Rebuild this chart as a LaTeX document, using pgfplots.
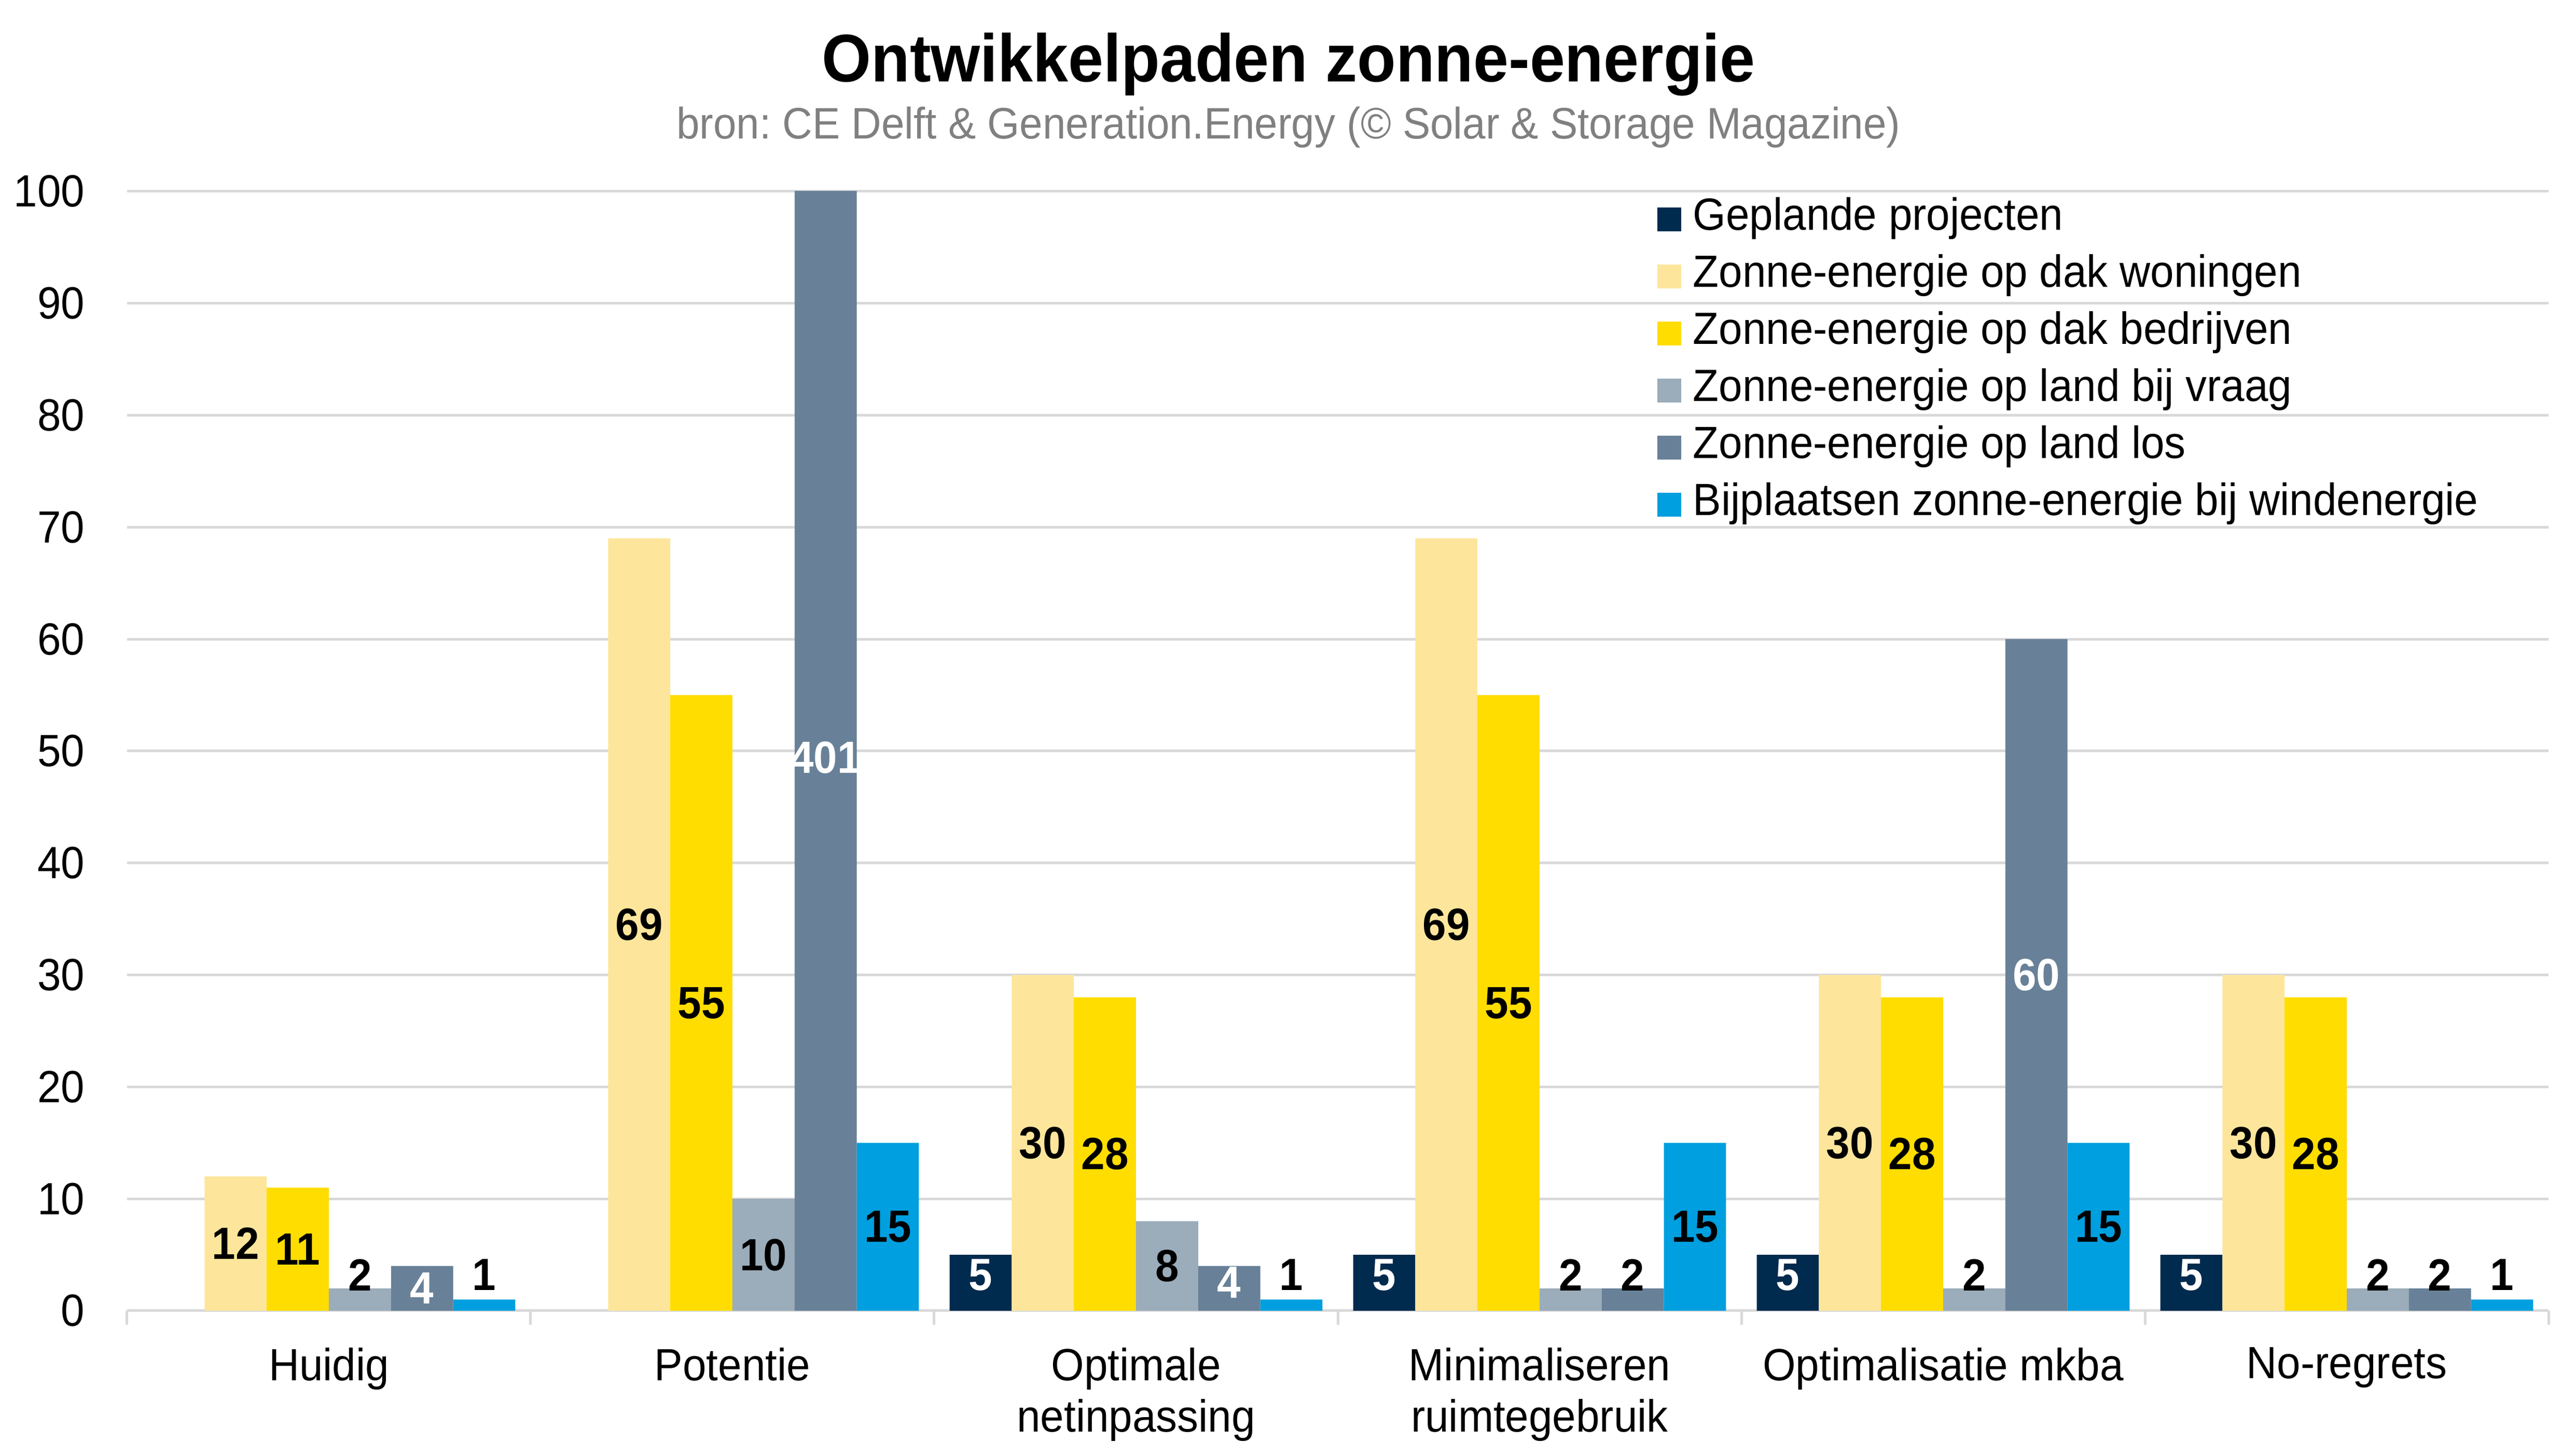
\documentclass[border=0pt]{standalone}
\usepackage{fontspec}
\setmainfont{Liberation Sans}[FakeStretch=0.94]
\usepackage{pgfplots}
\pgfplotsset{compat=1.18}
\usepackage{pgfplotstable}

\definecolor{gepland}{HTML}{002B4E}
\definecolor{woning}{HTML}{FDE69B}
\definecolor{bedrijf}{HTML}{FFDD00}
\definecolor{vraag}{HTML}{9BACBA}
\definecolor{los}{HTML}{688198}
\definecolor{wind}{HTML}{009FDF}
\definecolor{lijn}{HTML}{D9D9D9}
\definecolor{sub}{HTML}{808080}

% x: 0 Huidig, 1 Potentie, 2 Optimale netinpassing, 3 Minimaliseren ruimtegebruik,
%    4 Optimalisatie mkba, 5 No-regrets
% v = waarde, ly = hoogte waarop het getal staat
\pgfplotstableread{
x v ly
2 5 3.2
3 5 3.2
4 5 3.2
5 5 3.2
}\tgepland
\pgfplotstableread{
x v ly
0 12 6
1 69 34.5
2 30 15
3 69 34.5
4 30 15
5 30 15
}\twoning
\pgfplotstableread{
x v ly
0 11 5.5
1 55 27.5
2 28 14
3 55 27.5
4 28 14
5 28 14
}\tbedrijf
\pgfplotstableread{
x v ly
0 2 3.2
1 10 5
2 8 4
3 2 3.2
4 2 3.2
5 2 3.2
}\tvraag
% w = 1: wit getal in de balk
\pgfplotstableread{
x v ly w
0 4 2 1
1 401 49.4 1
2 4 2.5 1
3 2 3.2 0
4 60 30 1
5 2 3.2 0
}\tlos
\pgfplotstableread{
x v ly
0 1 3.2
1 15 7.5
2 1 3.2
3 15 7.5
4 15 7.5
5 1 3.2
}\twind

\pgfplotsset{
  balk/.style={ybar, draw=none, fill=#1, bar width=0.154,
    legend image code/.code={\fill[##1] (-0.2pt,-2.3pt) rectangle (4.4pt,2.3pt);}},
  getal/.style={only marks, mark=none, forget plot,
    nodes near coords, point meta=explicit,
    every node near coord/.append style={anchor=center, inner sep=0pt,
      font=\bfseries\fontsize{8.7}{10}\selectfont}},
}

\begin{document}
\begin{tikzpicture}
\useasboundingbox (-24.5pt,-28pt) rectangle (471.9pt,252.7pt);
\begin{axis}[
  at={(0pt,0pt)}, anchor=south west, scale only axis,
  width=466.8pt, height=215.8pt,
  xmin=-0.5, xmax=5.5, ymin=0, ymax=100,
  /pgf/number format/assume math mode=true,
  xtick={0,...,5},
  xticklabels={Huidig, Potentie, {Optimale\\netinpassing}, {Minimaliseren\\ruimtegebruik}, {Optimalisatie mkba}, No-regrets},
  xticklabel style={font=\fontsize{8.7}{9.9}\selectfont, align=center, inner sep=0pt, anchor=north, yshift=-6.9pt},
  extra x ticks={-0.5,0.5,...,5.5},
  extra x tick labels={},
  extra x tick style={grid=none, major tick length=2.7pt, tick style={draw=lijn, line width=0.5pt}},
  ytick={0,10,...,100},
  yticklabel style={font=\fontsize{8.7}{10}\selectfont, anchor=east, inner sep=0pt, xshift=-8pt},
  ymajorgrids, grid style={draw=lijn, line width=0.5pt},
  axis x line*=bottom, axis y line*=left,
  x axis line style={draw=lijn, line width=0.5pt},
  y axis line style={draw=none},
  tick align=outside, major tick length=0pt,
  legend style={at={(0.6315,1)}, anchor=north west, yshift=-1pt, draw=none, fill=none,
    font=\fontsize{8.7}{10}\selectfont, row sep=2.5pt, column sep=2.3pt, inner sep=0pt,
    nodes={inner sep=0pt, text height=6.3pt, text depth=2.2pt}},
  legend cell align=left,
]
\addplot[balk=gepland, bar shift=-0.385] table[x=x, y=v] {\tgepland};
\addlegendentry{Geplande projecten}
\addplot[balk=woning, bar shift=-0.231] table[x=x, y=v] {\twoning};
\addlegendentry{Zonne-energie op dak woningen}
\addplot[balk=bedrijf, bar shift=-0.077] table[x=x, y=v] {\tbedrijf};
\addlegendentry{Zonne-energie op dak bedrijven}
\addplot[balk=vraag, bar shift=0.077] table[x=x, y=v] {\tvraag};
\addlegendentry{Zonne-energie op land bij vraag}
\addplot[balk=los, bar shift=0.231] table[x=x, y=v] {\tlos};
\addlegendentry{Zonne-energie op land los}
\addplot[balk=wind, bar shift=0.385] table[x=x, y=v] {\twind};
\addlegendentry{Bijplaatsen zonne-energie bij windenergie}

% getallen bij de balken (x verschoven naar het midden van de balk)
\addplot[getal, nodes near coords style={text=white}] table[x expr=\thisrow{x}-0.385, y=ly, meta=v] {\tgepland};
\addplot[getal] table[x expr=\thisrow{x}-0.231, y=ly, meta=v] {\twoning};
\addplot[getal] table[x expr=\thisrow{x}-0.077, y=ly, meta=v] {\tbedrijf};
\addplot[getal] table[x expr=\thisrow{x}+0.077, y=ly, meta=v] {\tvraag};
\addplot[getal, restrict expr to domain={\thisrow{w}}{1:1},
  nodes near coords style={text=white}] table[x expr=\thisrow{x}+0.231, y=ly, meta=v] {\tlos};
\addplot[getal, restrict expr to domain={\thisrow{w}}{0:0}] table[x expr=\thisrow{x}+0.231, y=ly, meta=v] {\tlos};
\addplot[getal] table[x expr=\thisrow{x}+0.385, y=ly, meta=v] {\twind};
\end{axis}
\node[anchor=base, font=\bfseries\fontsize{13}{15}\selectfont] at (223.9pt,236.9pt) {Ontwikkelpaden zonne-energie};
\node[anchor=base, font=\fontsize{8.5}{10}\selectfont, text=sub] at (223.9pt,225.9pt) {bron:\ CE Delft \& Generation.Energy (© Solar \& Storage Magazine)};
\end{tikzpicture}
\end{document}
